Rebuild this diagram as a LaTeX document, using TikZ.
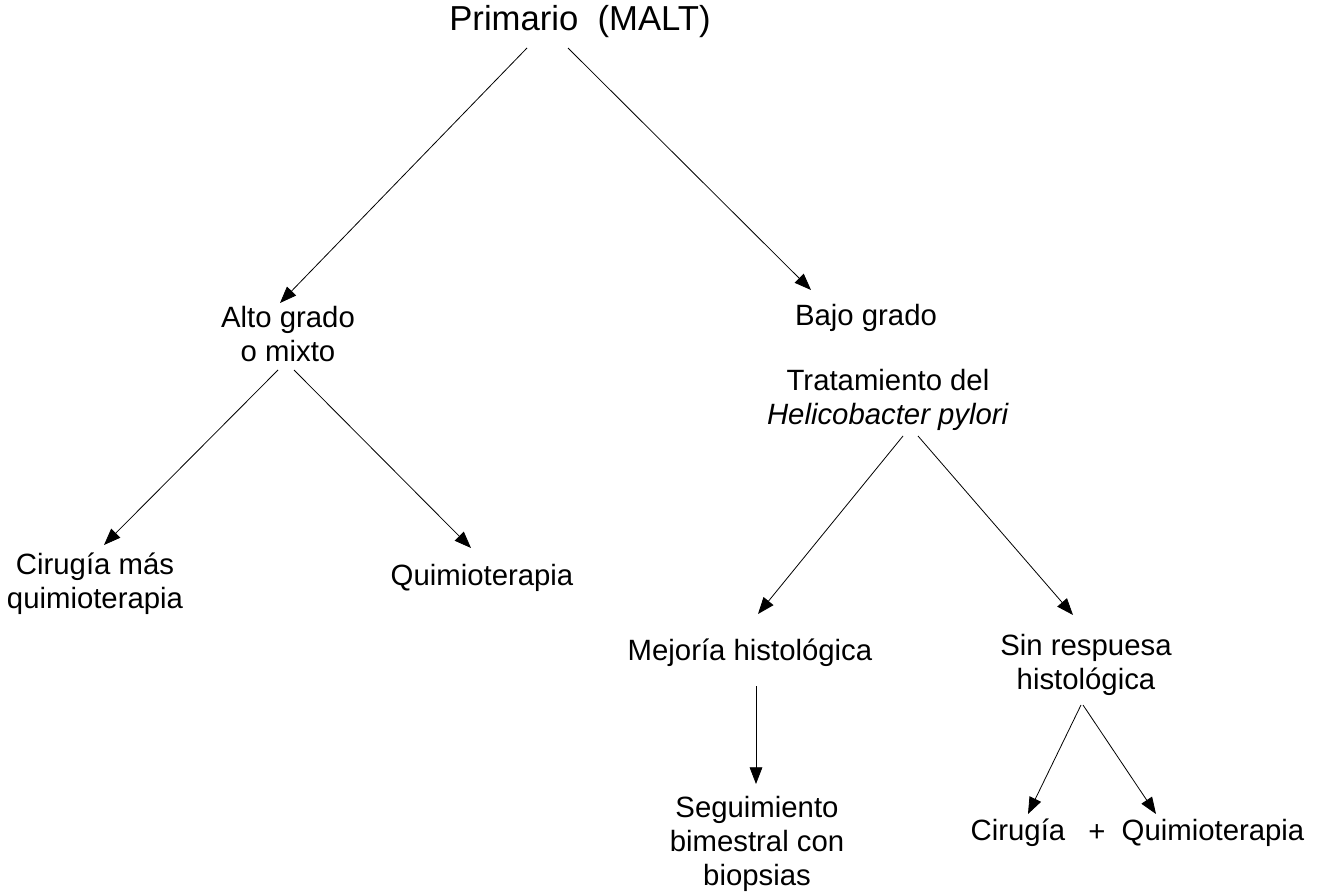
\documentclass[tikz,border=0pt]{standalone}
\usepackage{fontspec}
\setmainfont{Liberation Sans}
\usetikzlibrary{arrows.meta,calc}
\tikzset{
  lbl/.style={inner sep=0pt, align=center, font=\fontsize{22}{25.5}\selectfont},
  arr/.style={line width=0.6pt, -{Triangle[length=12.5pt,width=9.5pt]}},
  seg/.style={line width=0.6pt}
}
\begin{document}
\begin{tikzpicture}[x=0.75pt,y=-0.75pt]
\useasboundingbox (0,0) rectangle (1321,895);
\node[lbl, font=\fontsize{26}{30}\selectfont] (prim) at (580,22) {Primario\ \ (MALT)};
\node[lbl] (alto) at (288,334) {Alto grado\\o mixto};
\node[lbl] (bajo) at (866,318) {Bajo grado};
\node[lbl] (trat) at (888,400) {Tratamiento del\\\textit{Helicobacter pylori}};
\node[lbl] (cirmas) at (95,584) {Cirugía más\\quimioterapia};
\node[lbl] (quim) at (482,578) {Quimioterapia};
\node[lbl] (mej) at (750,653) {Mejoría histológica};
\node[lbl] (sin) at (1086,665) {Sin respuesa\\histológica};
\node[lbl] (seg) at (757,844) {Seguimiento\\bimestral con\\biopsias};
\node[lbl] (cir) at (1018,833) {Cirugía};
\node[lbl] (plus) at (1097,833) {+};
\node[lbl] (quim2) at (1213,833) {Quimioterapia};

\draw[arr] ($(prim)+(-53,26)$) -- ($(alto)+(-8,-31)$);
\draw[arr] ($(prim)+(-12,26)$) -- ($(bajo)+(-55,-28)$);
\draw[arr] ($(alto)+(-10,36)$) -- ($(cirmas)+(9,-39)$);
\draw[arr] ($(alto)+(6,36)$) -- ($(quim)+(-11,-30)$);
\draw[arr] ($(trat)+(15,36)$) -- ($(mej)+(8,-39)$);
\draw[arr] ($(trat)+(30,36)$) -- ($(sin)+(-13,-50)$);
\draw[arr] ($(mej)+(6,33)$) -- ($(seg)+(-1,-60)$);
\draw[arr] ($(sin)+(-5,40)$) -- ($(cir)+(10,-19)$);
\draw[arr] ($(sin)+(-3,40)$) -- ($(quim2)+(-57,-19)$);
\end{tikzpicture}
\end{document}
